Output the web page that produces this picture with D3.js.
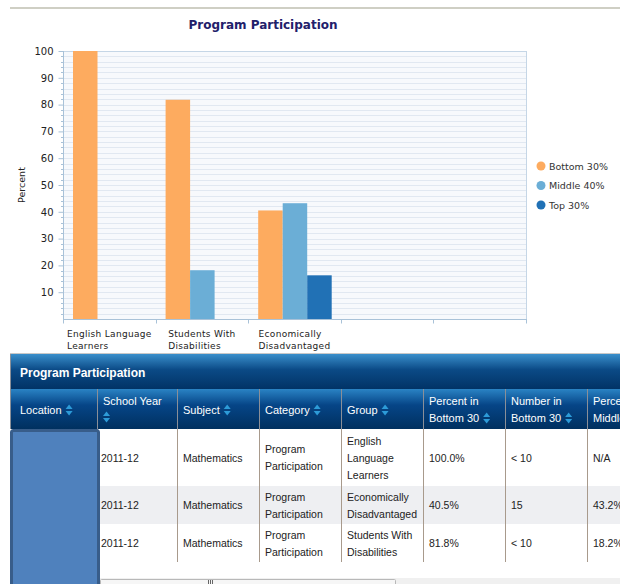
<!DOCTYPE html>
<html>
<head>
<meta charset="utf-8">
<script src="https://d3js.org/d3.v7.min.js"></script>
<style>
  body { margin: 0; background: #fff; }
  svg { display: block; }
  .chart-text { font-family: "DejaVu Sans", Verdana, sans-serif; }
  .tbl-text { font-family: "Liberation Sans", Arial, sans-serif; }
</style>
</head>
<body>
<svg width="620" height="584"></svg>
<script>
// ---- chart data ----
var categories = ["English Language|Learners", "Students With|Disabilities", "Economically|Disadvantaged", "", " "];
var seriesNames = ["Bottom 30%", "Middle 40%", "Top 30%"];
var seriesColors = ["#fdab5f", "#6baed6", "#2171b5"];
var bottom30 = [100, 81.8, 40.5, null, null];
var middle40 = [null, 18.2, 43.2, null, null];
var top30 = [null, null, 16.3, null, null];
var yTicks = [10, 20, 30, 40, 50, 60, 70, 80, 90, 100];

// ---- table data ----
var columns = ["Location", "School Year", "Subject", "Category", "Group", "Percent in|Bottom 30", "Number in|Bottom 30", "Percent in|Middle 40"];
var colSort = [true, true, true, true, true, true, true, false];
var schoolYear = ["2011-12", "2011-12", "2011-12"];
var subject = ["Mathematics", "Mathematics", "Mathematics"];
var category = ["Program|Participation", "Program|Participation", "Program|Participation"];
var group = ["English|Language|Learners", "Economically|Disadvantaged", "Students With|Disabilities"];
var pctBottom = ["100.0%", "40.5%", "81.8%"];
var numBottom = ["< 10", "15", "< 10"];
var pctMiddle = ["N/A", "43.2%", "18.2%"];

var svg = d3.select("svg");

// top rule
svg.append("rect").attr("x", 10).attr("y", 7).attr("width", 610).attr("height", 2).attr("fill", "#cfcfc4");

// ---- chart ----
var plot = {left: 63, right: 526, top: 51, bottom: 319};
var x0 = d3.scaleBand().domain(categories).range([plot.left, plot.right]);
var x1 = d3.scaleBand().domain(seriesNames).range([10, 10 + 73.5]);
var y = d3.scaleLinear().domain([0, 100]).range([plot.bottom, plot.top]);

svg.append("text").attr("class", "chart-text")
  .attr("x", 263).attr("y", 29).attr("text-anchor", "middle")
  .attr("font-size", 12).attr("font-weight", "bold").attr("fill", "#22206a")
  .text("Program Participation");

svg.append("rect")
  .attr("x", plot.left).attr("y", plot.top)
  .attr("width", plot.right - plot.left).attr("height", plot.bottom - plot.top)
  .attr("fill", "#f7f9fc");

// grid every 2 units
var grid = d3.range(2, 101, 2);
svg.append("g").selectAll("line").data(grid).enter().append("line")
  .attr("x1", plot.left).attr("x2", plot.right)
  .attr("y1", function(d) { return Math.round(y(d)) + 0.5; })
  .attr("y2", function(d) { return Math.round(y(d)) + 0.5; })
  .attr("stroke", function(d) { return d === 100 ? "#c5d6e6" : "#e1e8f1"; });

// right border
svg.append("line").attr("x1", plot.right + 0.5).attr("x2", plot.right + 0.5)
  .attr("y1", plot.top).attr("y2", plot.bottom + 4).attr("stroke", "#c5d6e6");

// y axis
var yAxis = d3.axisLeft(y).tickValues(yTicks).tickSize(5).tickSizeOuter(0).tickPadding(5);
var yg = svg.append("g").attr("class", "chart-text")
  .attr("transform", "translate(" + (plot.left + 0.5) + ",0)").call(yAxis);
yg.select(".domain").attr("stroke", "#a9c2d8").attr("d", "M0," + (plot.top) + "V" + (plot.bottom + 4));
yg.selectAll(".tick line").attr("stroke", "#a9c2d8");
yg.selectAll(".tick text").attr("font-size", 10).attr("fill", "#222").attr("font-family", "DejaVu Sans, Verdana, sans-serif");
// minor ticks
var minor = d3.range(2, 100, 2).filter(function(d) { return d % 10 !== 0; });
svg.append("g").selectAll("line").data(minor).enter().append("line")
  .attr("x1", plot.left - 2).attr("x2", plot.left)
  .attr("y1", function(d) { return Math.round(y(d)) + 0.5; })
  .attr("y2", function(d) { return Math.round(y(d)) + 0.5; })
  .attr("stroke", "#a9c2d8");

svg.append("text").attr("class", "chart-text")
  .attr("transform", "translate(25,185) rotate(-90)")
  .attr("text-anchor", "middle").attr("font-size", 9.5).attr("fill", "#222")
  .text("Percent");

// bars
var values = [bottom30, middle40, top30];
var barData = [];
categories.forEach(function(c, i) {
  seriesNames.forEach(function(s, j) {
    if (values[j][i] != null) barData.push({cat: c, series: s, color: seriesColors[j], value: values[j][i]});
  });
});
svg.append("g").selectAll("rect").data(barData).enter().append("rect")
  .attr("x", function(d) { return x0(d.cat) + x1(d.series); })
  .attr("width", x1.bandwidth())
  .attr("y", function(d) { return y(d.value); })
  .attr("height", function(d) { return y(0) - y(d.value); })
  .attr("fill", function(d) { return d.color; });

// x axis
var xg = svg.append("g").attr("transform", "translate(0," + (plot.bottom + 0.5) + ")");
xg.append("line").attr("x1", plot.left).attr("x2", plot.right + 1).attr("stroke", "#a9c2d8");
var bounds = categories.map(function(c) { return x0(c); }).concat([plot.right]);
xg.selectAll("line.tk").data(bounds).enter().append("line").attr("class", "tk")
  .attr("x1", function(d) { return Math.round(d) + 0.5; })
  .attr("x2", function(d) { return Math.round(d) + 0.5; })
  .attr("y1", 0).attr("y2", 4).attr("stroke", "#a9c2d8");
var xl = xg.selectAll("text").data(categories).enter().append("text").attr("class", "chart-text")
  .attr("y", 17).attr("font-size", 9).attr("fill", "#222").attr("letter-spacing", 0.3);
xl.each(function(d) {
  var t = d3.select(this);
  var spans = d.split("|").map(function(line, k) {
    return t.append("tspan").attr("dy", k === 0 ? 0 : 12).text(line.trim());
  });
  var maxW = d3.max(spans, function(s) { return s.node().getComputedTextLength(); }) || 0;
  var lx = x0(d) + x0.bandwidth() / 2 - maxW / 2;
  spans.forEach(function(s) { s.attr("x", lx); });
});

// legend
var lg = svg.append("g").selectAll("g").data(seriesNames).enter().append("g")
  .attr("transform", function(d, i) { return "translate(541," + (166 + i * 19.5) + ")"; });
lg.append("circle").attr("r", 4.5).attr("fill", function(d, i) { return seriesColors[i]; });
lg.append("text").attr("class", "chart-text").attr("x", 8).attr("y", 3.5)
  .attr("font-size", 9.5).attr("fill", "#333").text(function(d) { return d; });

// ---- table ----
var tX = 10, tTitleY = 354, tHeadY = 389, tBodyY = 429;
var colX = [10, 97, 177, 259, 341, 423, 505, 587, 669];
var rowY = [429, 486, 524, 562];

var defs = svg.append("defs");
var g1 = defs.append("linearGradient").attr("id", "titleGrad").attr("x1", 0).attr("x2", 0).attr("y1", 0).attr("y2", 1);
g1.append("stop").attr("offset", "0%").attr("stop-color", "#3a8fcb");
g1.append("stop").attr("offset", "45%").attr("stop-color", "#0b4a86");
g1.append("stop").attr("offset", "100%").attr("stop-color", "#013366");
var g2 = defs.append("linearGradient").attr("id", "headGrad").attr("x1", 0).attr("x2", 0).attr("y1", 0).attr("y2", 1);
g2.append("stop").attr("offset", "0%").attr("stop-color", "#2a83c4");
g2.append("stop").attr("offset", "40%").attr("stop-color", "#064587");
g2.append("stop").attr("offset", "100%").attr("stop-color", "#00305f");

svg.append("rect").attr("x", tX).attr("y", tTitleY).attr("width", 620 - tX).attr("height", tHeadY - tTitleY).attr("fill", "url(#titleGrad)");
svg.append("rect").attr("x", tX).attr("y", tTitleY - 1).attr("width", 620 - tX).attr("height", 1).attr("fill", "#c8c8c8");
svg.append("text").attr("class", "tbl-text").attr("x", 20).attr("y", 377)
  .attr("font-size", 12).attr("font-weight", "bold").attr("fill", "#fff").text("Program Participation");

svg.append("rect").attr("x", tX).attr("y", tHeadY).attr("width", 620 - tX).attr("height", tBodyY - tHeadY).attr("fill", "url(#headGrad)");

// body rows
var rowFill = ["#ffffff", "#eeeff2", "#ffffff"];
svg.append("g").selectAll("rect").data(rowFill).enter().append("rect")
  .attr("x", tX).attr("y", function(d, i) { return rowY[i]; })
  .attr("width", 620 - tX).attr("height", function(d, i) { return rowY[i + 1] - rowY[i]; })
  .attr("fill", function(d) { return d; });

// column separators
colX.slice(1, 8).forEach(function(cx) {
  svg.append("line").attr("x1", cx + 0.5).attr("x2", cx + 0.5).attr("y1", tHeadY).attr("y2", tBodyY)
    .attr("stroke", "#8a8f98");
  svg.append("line").attr("x1", cx + 0.5).attr("x2", cx + 0.5).attr("y1", tBodyY).attr("y2", rowY[3])
    .attr("stroke", "#a89a8c");
});
svg.append("line").attr("x1", tX + 0.5).attr("x2", tX + 0.5).attr("y1", tTitleY).attr("y2", tBodyY).attr("stroke", "#8a8f98");

function sortIcon(x, yc) {
  var s = svg.append("g").attr("transform", "translate(" + x + "," + yc + ")");
  s.append("path").attr("d", "M0,-1 L3.5,-5.5 L7,-1 Z").attr("fill", "#2d9bd8");
  s.append("path").attr("d", "M0,1 L3.5,5.5 L7,1 Z").attr("fill", "#2d9bd8");
}

columns.forEach(function(c, i) {
  var lines = c.split("|");
  var tx = colX[i] + (i === 0 ? 10 : 6);
  var t = svg.append("text").attr("class", "tbl-text").attr("fill", "#fff").attr("font-size", 11);
  var w;
  if (c === "School Year") {
    t.attr("x", tx).attr("y", 405).text(c);
    sortIcon(tx, 417);
  } else if (lines.length === 2) {
    t.append("tspan").attr("x", tx).attr("y", 405).text(lines[0]);
    var t2 = t.append("tspan").attr("x", tx).attr("y", 422).text(lines[1]);
    w = t2.node().getComputedTextLength();
    if (colSort[i]) sortIcon(tx + w + 4, 418);
  } else {
    t.attr("x", tx).attr("y", 414).text(c);
    w = t.node().getComputedTextLength();
    if (colSort[i]) sortIcon(tx + w + 4, 410);
  }
});

// body cells
var bodyCols = [null, schoolYear, subject, category, group, pctBottom, numBottom, pctMiddle];
for (var r = 0; r < 3; r++) {
  var mid = (rowY[r] + rowY[r + 1]) / 2;
  bodyCols.forEach(function(col, i) {
    if (!col) return;
    var lines = col[r].split("|");
    var tx = colX[i] + (i === 1 ? 4 : 6);
    var t = svg.append("text").attr("class", "tbl-text").attr("fill", "#222").attr("font-size", 10.5);
    var lh = 17;
    var y0 = mid - (lines.length - 1) * lh / 2 + 4;
    lines.forEach(function(l, k) {
      t.append("tspan").attr("x", tx).attr("y", y0 + k * lh).text(l);
    });
  });
}

// scrollbar
svg.append("rect").attr("x", 100).attr("y", 578).attr("width", 520).attr("height", 8).attr("fill", "#f0f0f0");
svg.append("rect").attr("x", 100.5).attr("y", 579.5).attr("width", 295).attr("height", 8).attr("fill", "#f6f6f6")
  .attr("stroke", "#b8b8b8").attr("rx", 1);
[208, 210, 212].forEach(function(gx) {
  svg.append("line").attr("x1", gx + 0.5).attr("x2", gx + 0.5).attr("y1", 580).attr("y2", 584).attr("stroke", "#666");
});

// blue overlay box
svg.append("rect").attr("x", 11.5).attr("y", 430.5).attr("width", 87).attr("height", 160)
  .attr("rx", 2).attr("fill", "#4f81bd").attr("stroke", "#385d8a").attr("stroke-width", 3);
</script>
</body>
</html>
